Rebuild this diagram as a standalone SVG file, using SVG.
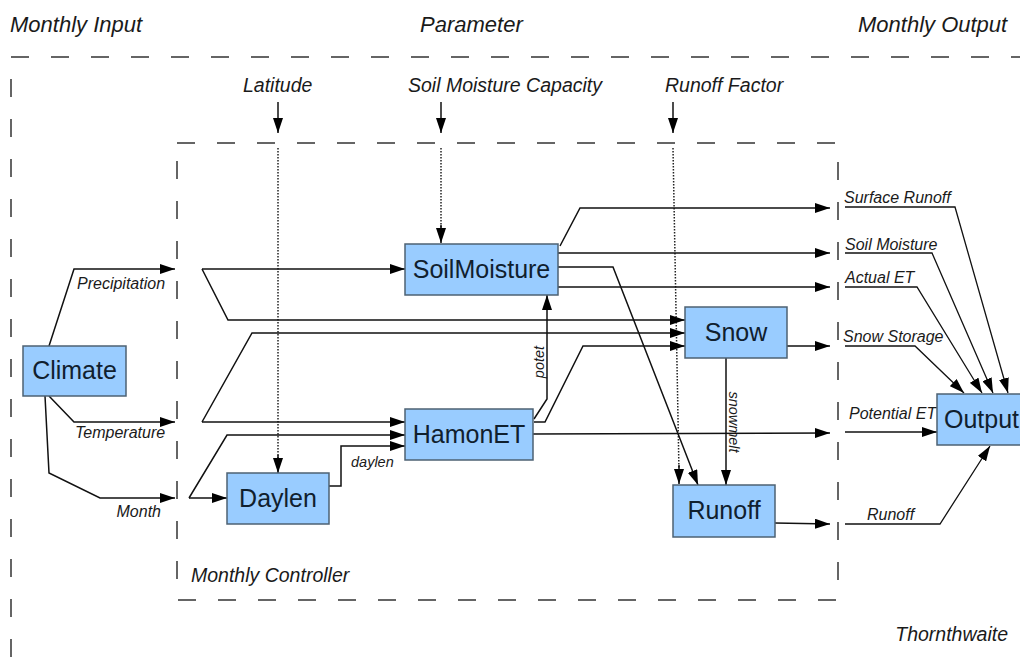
<svg xmlns="http://www.w3.org/2000/svg" width="1020" height="659" viewBox="0 0 1020 659">
<style>
.bg{fill:#ffffff}
.frame{fill:none;stroke:#333;stroke-width:1.5;stroke-dasharray:18 22}
.node rect{fill:#99ccff;stroke:#4d6273;stroke-width:1.5}
.node text{font-family:"Liberation Sans",Arial,sans-serif;font-size:25px;fill:#10202e;text-anchor:middle}
.lbl{font-family:"Liberation Sans",Arial,sans-serif;font-style:italic;fill:#1a1a1a}
.big{font-size:22px}
.par{font-size:19.5px}
.sm{font-size:16px}
.xs{font-size:14.5px}
.conn path{fill:none;stroke:#111;stroke-width:1.5;marker-end:url(#ah)}
.dot path{fill:none;stroke:#222;stroke-width:1.5;stroke-dasharray:1.5 1.5}
.out path{fill:none;stroke:#111;stroke-width:1.3;marker-end:url(#ah)}
</style>
<defs>
<marker id="ah" markerUnits="userSpaceOnUse" markerWidth="15" markerHeight="10" refX="15" refY="5" orient="auto">
<path d="M0,0 L15,5 L0,10 z" fill="#000"/>
</marker>
</defs>
<rect class="bg" x="0" y="0" width="1020" height="659"/>

<g id="frames">
<rect class="frame" x="11" y="57" width="1040" height="680"/>
<rect class="frame" x="177" y="143" width="661" height="457"/>
</g>

<g id="labels">
<text class="lbl big" x="10" y="32">Monthly Input</text>
<text class="lbl big" x="420" y="32">Parameter</text>
<text class="lbl big" x="858" y="32">Monthly Output</text>
<text class="lbl par" x="243" y="92">Latitude</text>
<text class="lbl par" x="408" y="92">Soil Moisture Capacity</text>
<text class="lbl par" x="665" y="92">Runoff Factor</text>
<text class="lbl sm" x="77" y="289">Precipitation</text>
<text class="lbl sm" x="75" y="438">Temperature</text>
<text class="lbl sm" x="161" y="517" text-anchor="end">Month</text>
<text class="lbl xs" x="351" y="467">daylen</text>
<text class="lbl xs" x="544" y="362" text-anchor="middle" transform="rotate(-90 544 362)">potet</text>
<text class="lbl xs" x="729" y="422" text-anchor="middle" transform="rotate(90 729 422)">snowmelt</text>
<text class="lbl par" x="191" y="582">Monthly Controller</text>
<text class="lbl par" x="1008" y="641" text-anchor="end">Thornthwaite</text>
<text class="lbl sm" x="844" y="203">Surface Runoff</text>
<text class="lbl sm" x="845" y="250">Soil Moisture</text>
<text class="lbl sm" x="845" y="283">Actual ET</text>
<text class="lbl sm" x="843" y="342">Snow Storage</text>
<text class="lbl sm" x="849" y="419">Potential ET</text>
<text class="lbl sm" x="867" y="520">Runoff</text>
</g>

<g id="connectors">
<g class="dot">
<path d="M278,148 L278,462"/>
<path d="M441,148 L441,230"/>
<path d="M673,148 L679,472"/>
</g>
<g class="conn">
<path d="M278,102 L278,133"/>
<path d="M441,102 L441,133"/>
<path d="M673,102 L673,133"/>
<path d="M278,455 L278,473"/>
<path d="M441,225 L441,243"/>
<path d="M679,465 L679,484"/>
<path d="M49,346 L74,269 L175,269"/>
<path d="M49,396 L74,422 L175,422"/>
<path d="M45,396 L49,473 L100,498 L175,498"/>
<path d="M202,269 L405,269"/>
<path d="M202,269 L228,320 L685,320"/>
<path d="M202,422 L405,422"/>
<path d="M202,422 L252,333 L685,333"/>
<path d="M189,498 L227,498"/>
<path d="M189,498 L227,435 L405,435"/>
<path d="M329,486 L341,486 L341,446 L405,446"/>
<path d="M534,419 L547,399 L547,295"/>
<path d="M534,422 L545,422 L583,346 L685,346"/>
<path d="M533,434 L830,433"/>
<path d="M560,246 L580,208 L830,208"/>
<path d="M558,253 L830,253"/>
<path d="M558,287 L830,287"/>
<path d="M558,267 L613,267 L698,485"/>
<path d="M787,346 L830,346"/>
<path d="M726,358 L726,485"/>
<path d="M775,523 L830,524"/>
</g>
<g class="out">
<path d="M845,207 L955,207 L1008,393"/>
<path d="M845,253 L932,253 L993,393"/>
<path d="M845,287 L917,287 L982,393"/>
<path d="M845,346 L915,346 L964,393"/>
<path d="M845,432 L937,432"/>
<path d="M845,524 L940,524 L990,446"/>
</g>
</g>

<g id="Climate" class="node"><rect x="23" y="346" width="103" height="50"/><text x="74.5" y="379">Climate</text></g>
<g id="Daylen" class="node"><rect x="227" y="473" width="102" height="51"/><text x="278" y="507">Daylen</text></g>
<g id="SoilMoisture" class="node"><rect x="405" y="244" width="153" height="51"/><text x="481.5" y="278">SoilMoisture</text></g>
<g id="HamonET" class="node"><rect x="405" y="409" width="128" height="51"/><text x="469" y="443">HamonET</text></g>
<g id="Snow" class="node"><rect x="685" y="307" width="102" height="51"/><text x="736" y="341">Snow</text></g>
<g id="Runoff" class="node"><rect x="673" y="485" width="102" height="52"/><text x="724" y="519">Runoff</text></g>
<g id="Output" class="node"><rect x="937" y="394" width="100" height="51"/><text x="944" y="428" style="text-anchor:start">Output</text></g>
</svg>
